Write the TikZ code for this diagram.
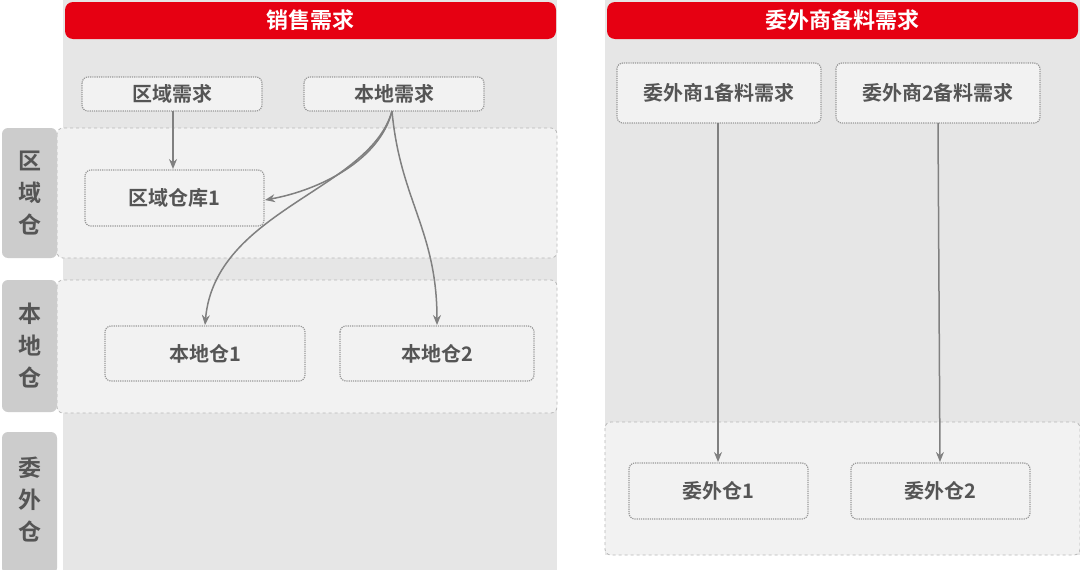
\documentclass[tikz,border=0pt]{standalone}
\usepackage{fontspec}
\setmainfont{Noto Sans CJK SC Bold}
\usetikzlibrary{arrows.meta}
\definecolor{panel}{HTML}{E6E6E6}
\definecolor{band}{HTML}{F2F2F2}
\definecolor{side}{HTML}{CCCCCC}
\definecolor{hred}{HTML}{E60012}
\definecolor{txt}{HTML}{555555}
\definecolor{dash}{HTML}{999999}
\tikzset{x=1pt,y=-1pt,
 hdr/.style={fill=hred,rounded corners=8pt,draw=none},
 dbox/.style={draw=dash,densely dotted,line width=1.2pt,rounded corners=6pt,fill=band},
 bnd/.style={draw=dash!70,dashed,line width=0.8pt,fill=band,rounded corners=6pt},
 lbl/.style={text=txt,font=\fontsize{20}{24}\selectfont},
 arr/.style={draw=gray,line width=1.5pt,-{Stealth[length=10pt,width=8pt]}}}
\begin{document}
\begin{tikzpicture}
\useasboundingbox (0,0) rectangle (1080,570);
\fill[white] (0,0) rectangle (1080,570);
% panels
\fill[panel] (63,0) rectangle (557,570);
\fill[panel] (605,0) rectangle (1080,555);
\draw[hdr] (65,2) rectangle (556,39);
\node[text=white,font=\fontsize{22}{26}\selectfont] (h1) at (310.5,20) {销售需求};
\draw[hdr] (607,2) rectangle (1078,39);
\node[text=white,font=\fontsize{22}{26}\selectfont] (h2) at (842.5,20) {委外商备料需求};
% bands
\draw[bnd] (57,128) rectangle (557,258);
\draw[bnd] (57,280) rectangle (557,413);
\draw[bnd] (605,422) rectangle (1080,555);
% side labels
\fill[side,rounded corners=6pt] (2,128) rectangle (57,258);
\fill[side,rounded corners=6pt] (2,280) rectangle (57,412);
\fill[side,rounded corners=6pt] (2,432) rectangle (57,574);
\node[lbl,align=center,font=\fontsize{23}{32}\selectfont] (s1) at (29.5,193) {区\\域\\仓};
\node[lbl,align=center,font=\fontsize{23}{32}\selectfont] (s2) at (29.5,346) {本\\地\\仓};
\node[lbl,align=center,font=\fontsize{23}{32}\selectfont] (s3) at (29.5,500) {委\\外\\仓};
% nodes
\draw[dbox] (82,77) rectangle (262,111); \node[lbl] (qx) at (172,94) {区域需求};
\draw[dbox] (304,77) rectangle (484,111); \node[lbl] (bx) at (394,94) {本地需求};
\draw[dbox] (85,170) rectangle (264,226); \node[lbl] (qk) at (174.5,198) {区域仓库1};
\draw[dbox] (105,326) rectangle (305,381); \node[lbl] (b1) at (205,353.5) {本地仓1};
\draw[dbox] (340,326) rectangle (534,381); \node[lbl] (b2) at (437,353.5) {本地仓2};
\draw[dbox] (617,63) rectangle (821,123); \node[lbl] (w1x) at (719,93) {委外商1备料需求};
\draw[dbox] (836,63) rectangle (1040,123); \node[lbl] (w2x) at (938,93) {委外商2备料需求};
\draw[dbox] (629,463) rectangle (808,519); \node[lbl] (w1) at (718.5,491) {委外仓1};
\draw[dbox] (851,463) rectangle (1030,519); \node[lbl] (w2) at (940.5,491) {委外仓2};
% coordinates
\coordinate (qxb) at (173,111); \coordinate (qkt) at (173,169);
\coordinate (bxb) at (392,111);
\coordinate (qkr) at (265,200);
\coordinate (b1t) at (205,325); \coordinate (b2t) at (437,325);
\coordinate (w1xb) at (718,123); \coordinate (w1t) at (718,462);
\coordinate (w2xb) at (938,123); \coordinate (w2t) at (940,462);
% arrows
\draw[arr] (qxb) -- (qkt);
\draw[arr] (bxb) .. controls (380,160) and (320,190) .. (qkr);
\draw[arr] (bxb) .. controls (370,190) and (215,210) .. (b1t);
\draw[arr] (bxb) .. controls (400,200) and (437,230) .. (b2t);
\draw[arr] (w1xb) -- (w1t);
\draw[arr] (w2xb) -- (w2t);
\end{tikzpicture}
\end{document}
